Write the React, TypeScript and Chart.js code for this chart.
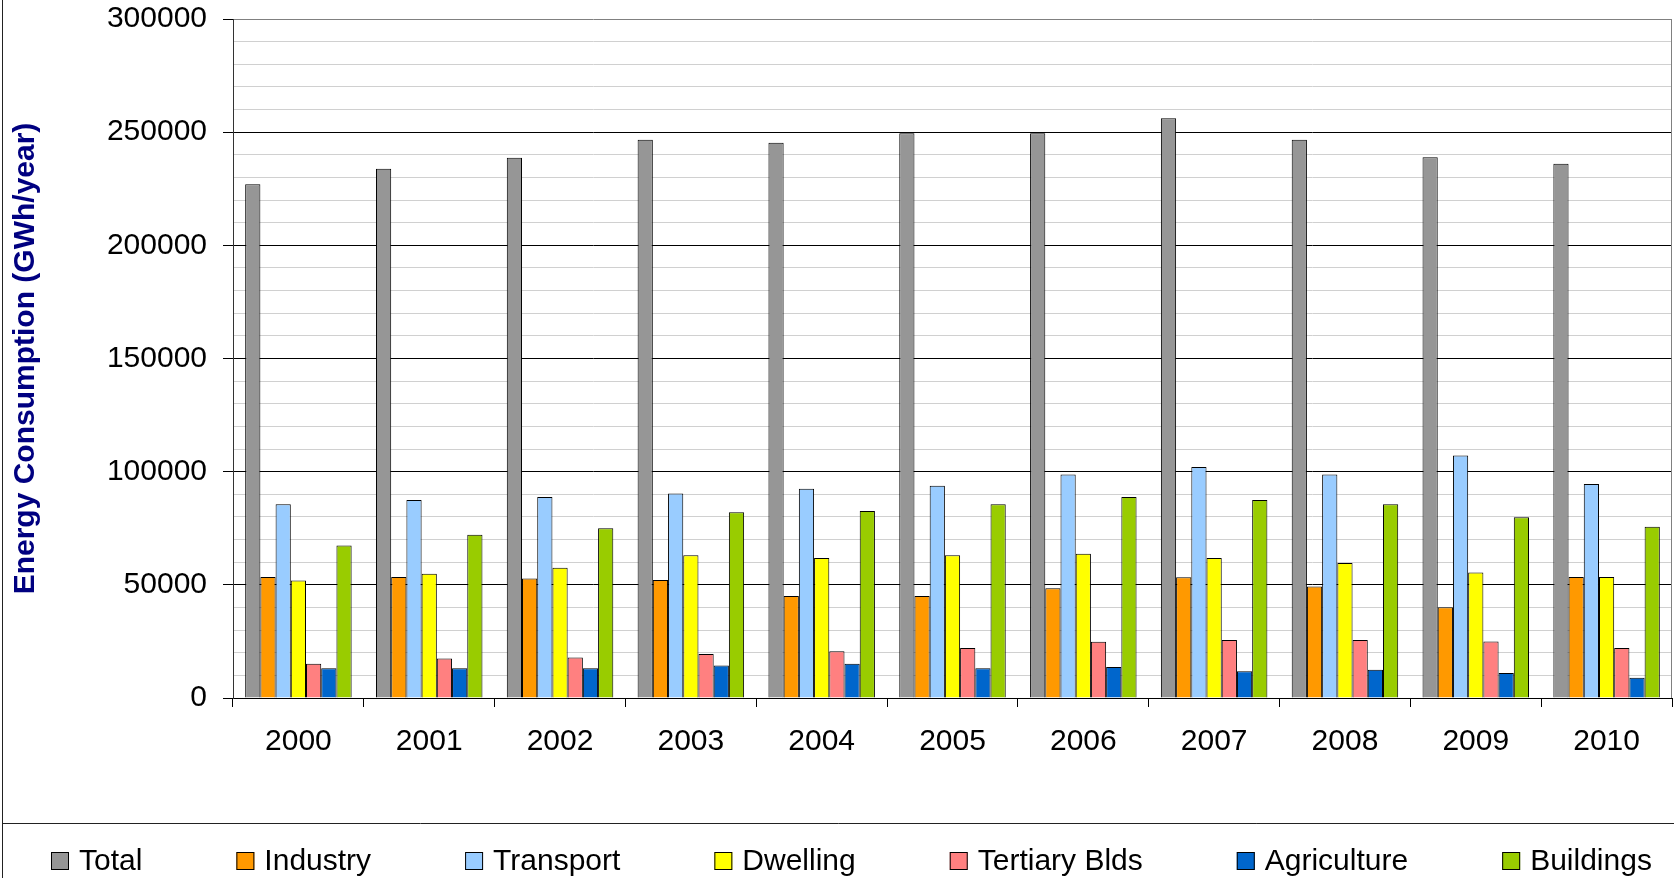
import { useEffect, useRef } from 'react';
import { Chart, registerables } from 'chart.js';

Chart.register(...registerables);

const FONT = '"Liberation Sans", Arial, Helvetica, sans-serif';

// Yearly energy consumption by sector (GWh/year)
const years = ['2000', '2001', '2002', '2003', '2004', '2005', '2006', '2007', '2008', '2009', '2010'];
const total = [227000, 233800, 238700, 246700, 245300, 249500, 249500, 256100, 246600, 238900, 236100];
const industry = [53500, 53500, 52800, 52100, 45100, 45100, 48500, 53400, 49300, 40100, 53500];
const transport = [85600, 87500, 88800, 90400, 92400, 93800, 98700, 102100, 98700, 107100, 94600];
const dwelling = [51900, 54900, 57600, 63100, 61900, 63100, 63700, 61900, 59600, 55400, 53500];
const tertiary = [15100, 17400, 17900, 19400, 20700, 22100, 24900, 25600, 25600, 25000, 22100];
const agriculture = [13100, 13100, 13100, 14400, 15100, 13100, 13700, 11800, 12500, 11000, 9000];
const buildings = [67400, 72100, 75000, 82100, 82600, 85600, 88800, 87500, 85600, 79900, 75700];

const seriesLabels = ['Total', 'Industry', 'Transport', 'Dwelling', 'Tertiary Blds', 'Agriculture', 'Buildings'];
const seriesColors = ['#969696', '#FF9900', '#99CCFF', '#FFFF00', '#FF8080', '#0066CC', '#99CC00'];
const seriesValues = [total, industry, transport, dwelling, tertiary, agriculture, buildings];

const yTicksMajor = 50000;

// Outer frame, plot border on the right and the legend row along the bottom
const decorPlugin = {
  id: 'decor',
  beforeDraw(chart: any) {
    const { ctx, width, height } = chart;
    ctx.save();
    ctx.fillStyle = '#ffffff';
    ctx.fillRect(0, 0, width, height);
    ctx.restore();
  },
  afterDraw(chart: any) {
    const { ctx, chartArea: a, width, height } = chart;
    ctx.save();
    // right edge of the plot area
    ctx.strokeStyle = '#808080';
    ctx.lineWidth = 1;
    ctx.beginPath();
    ctx.moveTo(Math.round(a.right) - 0.5, a.top);
    ctx.lineTo(Math.round(a.right) - 0.5, a.bottom);
    ctx.stroke();

    // chart frame and legend separator
    ctx.strokeStyle = '#222222';
    ctx.beginPath();
    ctx.moveTo(2.5, 0);
    ctx.lineTo(2.5, height);
    ctx.moveTo(2.5, 823.5);
    ctx.lineTo(width, 823.5);
    ctx.stroke();

    // legend
    ctx.font = `30px ${FONT}`;
    ctx.textBaseline = 'alphabetic';
    ctx.textAlign = 'left';
    let x = 51;
    chart.data.datasets.forEach((ds: any) => {
      ctx.fillStyle = ds.backgroundColor;
      ctx.fillRect(x, 852, 18, 18);
      ctx.strokeStyle = '#000';
      ctx.lineWidth = 1;
      ctx.strokeRect(x + 0.5, 852.5, 17, 17);
      ctx.fillStyle = '#000';
      ctx.fillText(ds.label, x + 28, 870);
      x += 28 + ctx.measureText(ds.label).width + 94;
    });
    ctx.restore();
  },
};

export default function App() {
  const canvasRef = useRef<HTMLCanvasElement | null>(null);

  useEffect(() => {
    document.body.style.margin = '0';
    const canvas = canvasRef.current;
    if (!canvas) return;

    const chart = new Chart(canvas, {
      type: 'bar',
      data: {
        labels: years,
        datasets: seriesLabels.map((label, i) => ({
          label,
          data: seriesValues[i],
          backgroundColor: seriesColors[i],
          borderColor: '#000000',
          borderWidth: 1,
          categoryPercentage: 0.814,
          barPercentage: 1.0,
        })),
      },
      options: {
        animation: false,
        responsive: false,
        maintainAspectRatio: false,
        devicePixelRatio: 1,
        layout: { padding: { left: 8, top: 19, right: 2, bottom: 0 } },
        plugins: {
          legend: { display: false },
          tooltip: { enabled: false },
        },
        scales: {
          x: {
            grid: {
              offset: true,
              drawOnChartArea: false,
              drawTicks: true,
              tickLength: 9,
              color: '#000000',
            },
            border: { color: '#000000', width: 1 },
            ticks: {
              color: '#000000',
              font: { size: 30, family: FONT },
              padding: 17,
              maxRotation: 0,
              autoSkip: false,
            },
            afterFit: (s: any) => {
              s.height = 180;
            },
          },
          y: {
            min: 0,
            max: 300000,
            ticks: {
              stepSize: 10000,
              autoSkip: false,
              padding: 16,
              color: '#000000',
              font: { size: 30, family: FONT },
              callback: (v: any) => (Number(v) % yTicksMajor === 0 ? String(v) : ''),
            },
            grid: {
              lineWidth: 1,
              tickLength: 10,
              color: (c: any) => {
                const v = c.tick ? c.tick.value : 0;
                if (v % yTicksMajor !== 0) return '#d0d0d0';
                return v === 300000 ? '#808080' : '#000000';
              },
              tickColor: (c: any) => {
                const v = c.tick ? c.tick.value : 0;
                return v % yTicksMajor === 0 ? '#000000' : 'rgba(0,0,0,0)';
              },
            },
            border: { color: '#333333', width: 1 },
            title: {
              display: true,
              text: 'Energy Consumption (GWh/year)',
              color: '#000080',
              font: { size: 30, weight: 'bold', family: FONT, lineHeight: 1.2 },
              padding: { top: 0, bottom: 0 },
            },
            afterFit: (s: any) => {
              s.width = 225;
              s.paddingTop = 0;
              s.paddingBottom = 0;
            },
          },
        },
      },
      plugins: [decorPlugin],
    });

    return () => chart.destroy();
  }, []);

  return (
    <div style={{ position: 'fixed', left: 0, top: 0, width: 1674, height: 878, background: '#fff' }}>
      <canvas ref={canvasRef} width={1674} height={878} style={{ display: 'block' }} />
    </div>
  );
}
